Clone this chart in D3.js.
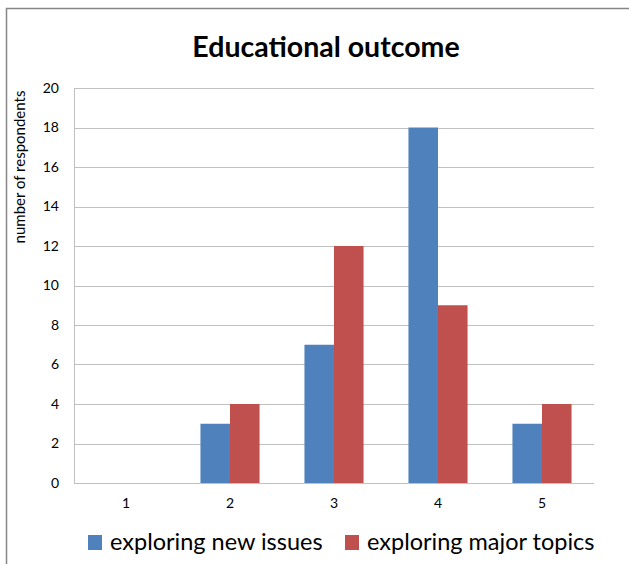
<!DOCTYPE html>
<html>
<head>
<meta charset="utf-8">
<script src="https://cdn.jsdelivr.net/npm/d3@7"></script>
<style>
  html, body { margin: 0; padding: 0; background: #fff; }
  svg { display: block; font-family: Lato, "Open Sans", sans-serif; }
</style>
</head>
<body>
<svg id="chart" width="629" height="564"></svg>
<script>
// Survey answers per rating level
const categories = ["1", "2", "3", "4", "5"];
const seriesNames = ["exploring new issues", "exploring major topics"];
const newIssues = [0, 3, 7, 18, 3];
const majorTopics = [0, 4, 12, 9, 4];
const yTicks = [0, 2, 4, 6, 8, 10, 12, 14, 16, 18, 20];
const colors = ["#4f81bd", "#c0504d"];

const svg = d3.select("#chart");
const W = 629, H = 564;
const plot = { left: 74, right: 594, top: 88, bottom: 483 };

// outer chart frame (runs off the right and bottom edges)
svg.append("rect")
  .attr("x", 6.5).attr("y", 8.5)
  .attr("width", W).attr("height", H)
  .attr("fill", "none").attr("stroke", "#868686").attr("stroke-width", 1.5);

svg.append("text")
  .attr("x", 326).attr("y", 57)
  .attr("text-anchor", "middle")
  .attr("font-size", 28.5).attr("font-weight", "bold")
  .attr("fill", "#000")
  .text("Educational outcome");

const x = d3.scaleBand().domain(categories)
  .range([plot.left, plot.right]).paddingInner(0).paddingOuter(0);
const y = d3.scaleLinear().domain([0, 20]).range([plot.bottom, plot.top]);

// horizontal gridlines
svg.append("g").selectAll("line").data(yTicks).join("line")
  .attr("x1", plot.left).attr("x2", plot.right)
  .attr("y1", d => Math.round(y(d)) + 0.5).attr("y2", d => Math.round(y(d)) + 0.5)
  .attr("stroke", "#c0c0c0").attr("stroke-width", 1);

// left edge of the plot area
svg.append("line")
  .attr("x1", plot.left + 0.5).attr("x2", plot.left + 0.5)
  .attr("y1", plot.top).attr("y2", plot.bottom)
  .attr("stroke", "#c0c0c0");

// y axis labels
const yAxis = d3.axisLeft(y).tickValues(yTicks).tickSize(0).tickPadding(15);
const gy = svg.append("g").attr("transform", `translate(${plot.left},0)`).call(yAxis);
gy.select(".domain").remove();
gy.selectAll("text").attr("font-size", 14).attr("fill", "#000").attr("font-family", "Lato, sans-serif");

// x axis labels
const xAxis = d3.axisBottom(x).tickSize(0).tickPadding(15);
const gx = svg.append("g").attr("transform", `translate(0,${plot.bottom})`).call(xAxis);
gx.select(".domain").remove();
gx.selectAll("text").attr("font-size", 14).attr("fill", "#000").attr("font-family", "Lato, sans-serif");

// axis title
svg.append("text")
  .attr("transform", "translate(25,167) rotate(-90)")
  .attr("text-anchor", "middle")
  .attr("font-size", 15).attr("fill", "#000")
  .text("number of respondents");

// bars
const xSub = d3.scaleBand().domain([0, 1]).range([0, x.bandwidth()]).paddingInner(0).paddingOuter(0.76);
const rows = categories.map((c, i) => ({ c, vals: [newIssues[i], majorTopics[i]] }));
const groups = svg.append("g").selectAll("g").data(rows).join("g")
  .attr("transform", d => `translate(${x(d.c)},0)`);
groups.selectAll("rect").data(d => d.vals.map((v, k) => ({ v, k }))).join("rect")
  .attr("x", d => xSub(d.k))
  .attr("width", xSub.bandwidth())
  .attr("y", d => y(d.v))
  .attr("height", d => y(0) - y(d.v))
  .attr("fill", d => colors[d.k]);

// bottom axis line
svg.append("line")
  .attr("x1", plot.left).attr("x2", plot.right)
  .attr("y1", plot.bottom + 0.5).attr("y2", plot.bottom + 0.5)
  .attr("stroke", "#c0c0c0");

// legend
const legendX = [88, 345];
const lg = svg.append("g").selectAll("g").data(seriesNames).join("g")
  .attr("transform", (d, i) => `translate(${legendX[i]},535)`);
lg.append("rect").attr("width", 14).attr("height", 15).attr("fill", (d, i) => colors[i]);
lg.append("text").attr("x", 22).attr("y", 15)
  .attr("font-size", 23.5).attr("fill", "#000")
  .text(d => d);
</script>
</body>
</html>
